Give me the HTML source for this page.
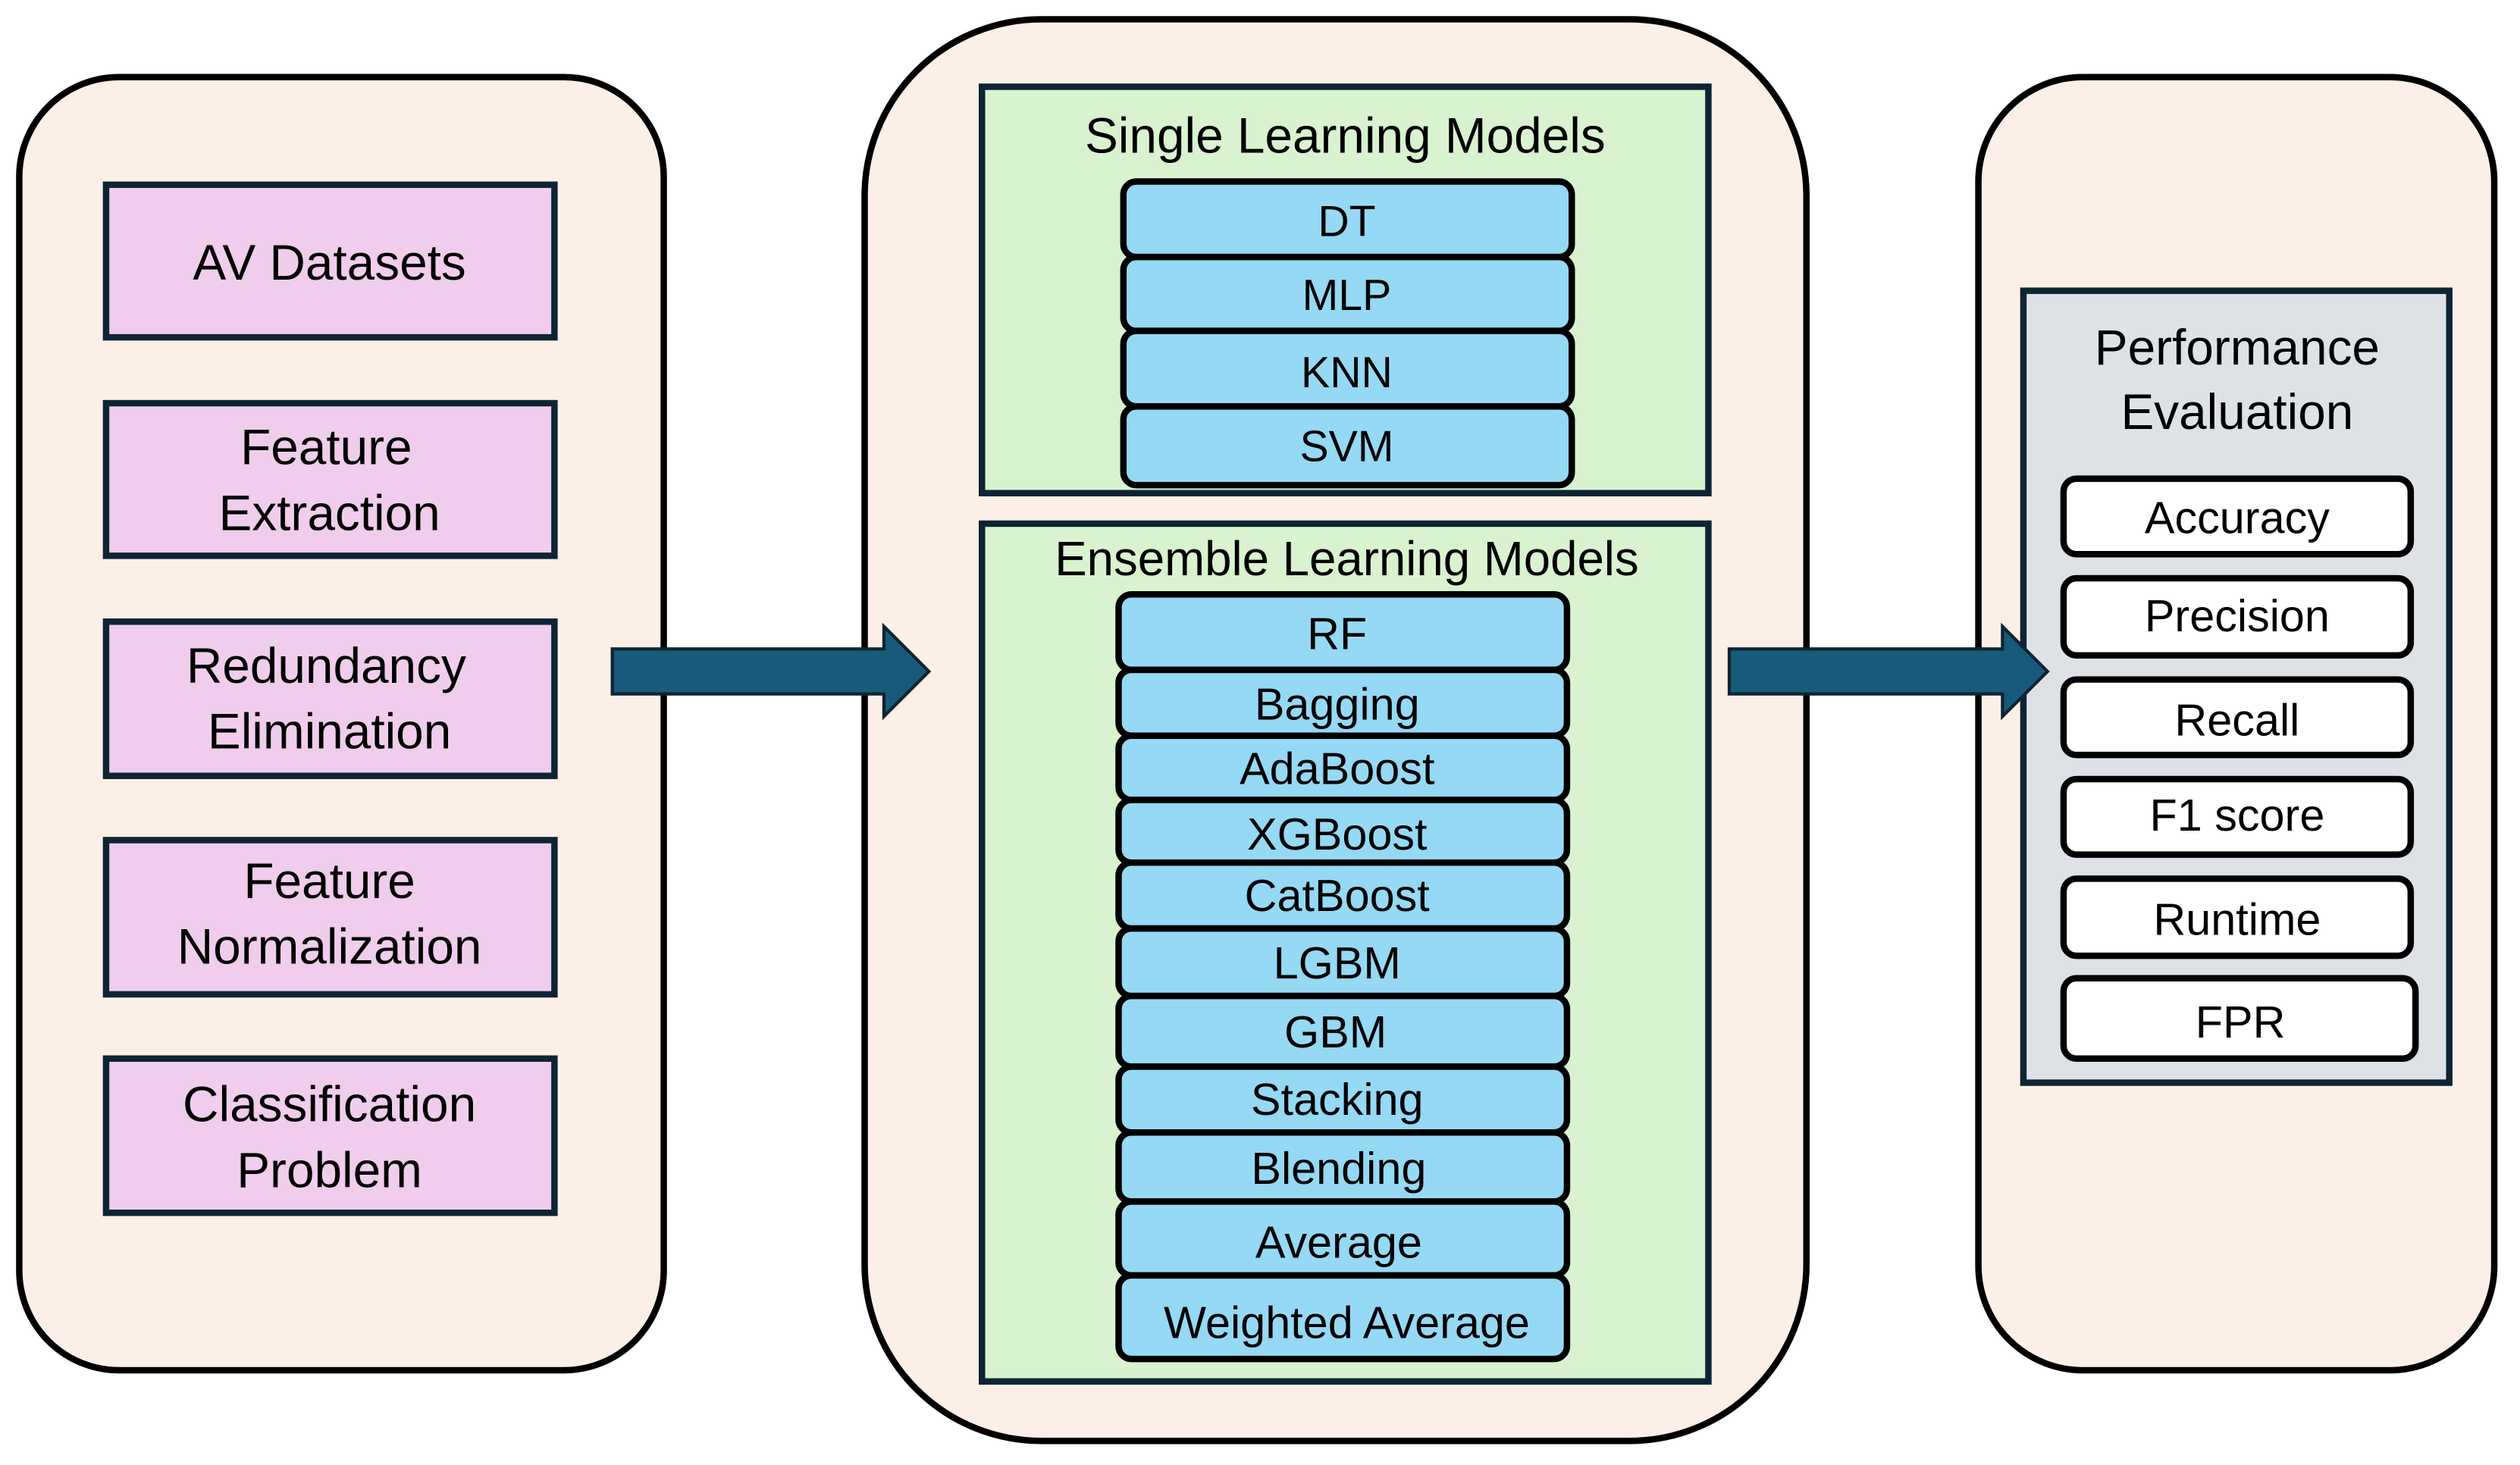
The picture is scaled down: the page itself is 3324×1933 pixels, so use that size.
<!DOCTYPE html>
<html><head><meta charset="utf-8"><style>
html,body{margin:0;padding:0;background:#fff;}
svg{display:block;}
.n{font-family:"Liberation Sans Narrow","Liberation Sans",sans-serif;fill:#000;text-anchor:middle;}
.w{font-family:"Liberation Sans",sans-serif;fill:#000;text-anchor:middle;}
</style></head><body>
<svg width="3324" height="1933" viewBox="0 0 1568 912" preserveAspectRatio="none" xmlns="http://www.w3.org/2000/svg">
<rect width="1568" height="912" fill="#fff"/>
<!-- Left panel -->
<rect x="12" y="48" width="401" height="805" rx="62" fill="#fcefe7" stroke="#000" stroke-width="4"/>
<g fill="#f0cdec" stroke="#0e2433" stroke-width="4">
<rect x="66" y="115" width="279" height="95"/>
<rect x="66" y="251" width="279" height="95"/>
<rect x="66" y="387" width="279" height="96"/>
<rect x="66" y="523" width="279" height="96"/>
<rect x="66" y="659" width="279" height="96"/>
</g>
<g class="n" font-size="31">
<text x="205" y="174">AV Datasets</text>
<text x="203" y="289">Feature</text>
<text x="205" y="330">Extraction</text>
<text x="203" y="425">Redundancy</text>
<text x="205" y="466">Elimination</text>
<text x="205" y="559">Feature</text>
<text x="205" y="600">Normalization</text>
<text x="205" y="698">Classification</text>
<text x="205" y="739">Problem</text>
</g>
<!-- Middle panel -->
<rect x="538" y="12" width="586" height="885" rx="110" fill="#fcefe7" stroke="#000" stroke-width="4"/>
<rect x="611" y="54" width="452" height="253" fill="#d9f2d0" stroke="#0e2433" stroke-width="4"/>
<text class="n" x="837" y="95" font-size="31">Single Learning Models</text>
<g fill="#95d9f5" stroke="#000" stroke-width="4">
<rect x="699" y="113" width="279" height="47" rx="8"/>
<rect x="699" y="160" width="279" height="46" rx="8"/>
<rect x="699" y="206" width="279" height="47" rx="8"/>
<rect x="699" y="253" width="279" height="49" rx="8"/>
</g>
<g class="n" font-size="27">
<text x="838" y="147">DT</text>
<text x="838" y="193">MLP</text>
<text x="838" y="241">KNN</text>
<text x="838" y="287">SVM</text>
</g>
<rect x="611" y="326" width="452" height="534" fill="#d9f2d0" stroke="#0e2433" stroke-width="4"/>
<text class="w" x="838" y="358" font-size="30">Ensemble Learning Models</text>
<g fill="#95d9f5" stroke="#000" stroke-width="4">
<rect x="696" y="370" width="279" height="47" rx="8"/>
<rect x="696" y="417" width="279" height="41" rx="8"/>
<rect x="696" y="458" width="279" height="40" rx="8"/>
<rect x="696" y="498" width="279" height="39" rx="8"/>
<rect x="696" y="537" width="279" height="41" rx="8"/>
<rect x="696" y="578" width="279" height="42" rx="8"/>
<rect x="696" y="620" width="279" height="44" rx="8"/>
<rect x="696" y="664" width="279" height="41" rx="8"/>
<rect x="696" y="705" width="279" height="43" rx="8"/>
<rect x="696" y="748" width="279" height="46" rx="8"/>
<rect x="696" y="794" width="279" height="52" rx="8"/>
</g>
<g class="w" font-size="28">
<text x="832" y="404">RF</text>
<text x="832" y="448">Bagging</text>
<text x="832" y="488">AdaBoost</text>
<text x="832" y="529">XGBoost</text>
<text x="832" y="567">CatBoost</text>
<text x="832" y="609">LGBM</text>
<text x="831" y="652">GBM</text>
<text x="832" y="694">Stacking</text>
<text x="833" y="737">Blending</text>
<text x="833" y="783">Average</text>
<text x="838" y="833">Weighted Average</text>
</g>
<!-- Right panel -->
<rect x="1231" y="48" width="321" height="805" rx="65" fill="#fcefe7" stroke="#000" stroke-width="4"/>
<rect x="1259" y="181" width="265" height="493" fill="#dee1e6" stroke="#0e2433" stroke-width="4"/>
<g class="w" font-size="31">
<text x="1392" y="227">Performance</text>
<text x="1392" y="267">Evaluation</text>
</g>
<g fill="#fff" stroke="#000" stroke-width="4">
<rect x="1284" y="298" width="216" height="47" rx="8"/>
<rect x="1284" y="360" width="216" height="48" rx="8"/>
<rect x="1284" y="423" width="216" height="47" rx="8"/>
<rect x="1284" y="485" width="216" height="47" rx="8"/>
<rect x="1284" y="547" width="216" height="48" rx="8"/>
<rect x="1284" y="609" width="219" height="50" rx="8"/>
</g>
<g class="w" font-size="28">
<text x="1392" y="332">Accuracy</text>
<text x="1392" y="393">Precision</text>
<text x="1392" y="458">Recall</text>
<text x="1392" y="517">F1 score</text>
<text x="1392" y="582">Runtime</text>
<text x="1394" y="646">FPR</text>
</g>
<!-- Arrows -->
<g fill="#175a7a" stroke="#0e2433" stroke-width="2">
<polygon points="381,404 550,404 550,390 578,418 550,446 550,432 381,432"/>
<polygon points="1076,404 1246,404 1246,390 1274,418 1246,446 1246,432 1076,432"/>
</g>
</svg>
</body></html>
